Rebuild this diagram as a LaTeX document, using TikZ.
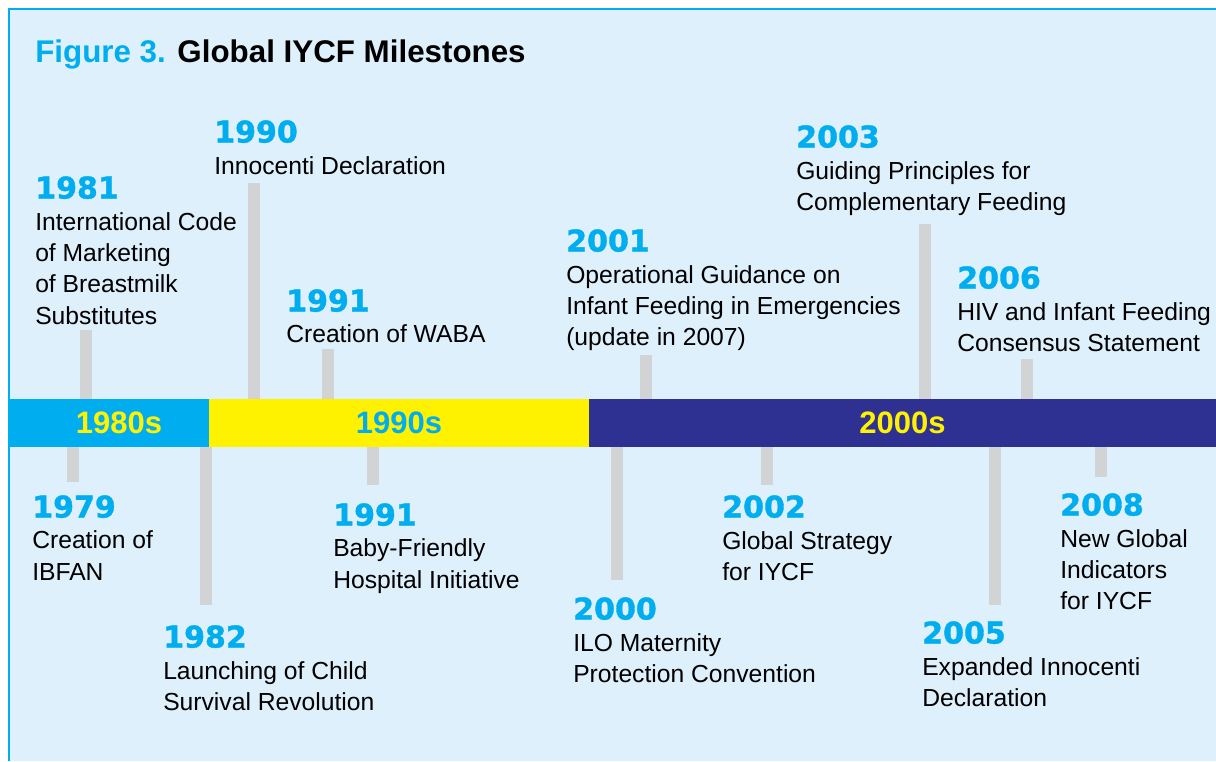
\documentclass[tikz,border=0pt]{standalone}
\usepackage{fontspec}
\setmainfont{Liberation Sans}
\newfontfamily\yearfont{DejaVu Sans Bold}[FakeBold=1.2]
\usetikzlibrary{calc}

\definecolor{iycfcyan}{RGB}{0,174,239}
\definecolor{iycfyellow}{RGB}{255,242,0}
\definecolor{iycfnavy}{RGB}{46,49,146}
\definecolor{iycfgray}{RGB}{209,211,212}
\definecolor{iycfback}{RGB}{221,240,251}

\newcommand\yr{\yearfont\fontsize{22.5}{27}\selectfont\color{iycfcyan}}

\begin{document}
\begin{tikzpicture}[x=0.75pt,y=-0.75pt,%
    decade/.style={inner sep=0pt,minimum height=36pt,font=\bfseries\fontsize{23.25}{28}\selectfont},
    ms/.style={anchor=north west,inner sep=0pt,align=left,font=\fontsize{18.5}{23.6}\selectfont},
    tick/.style={draw=iycfgray,line width=9pt}
  ]
		\useasboundingbox (0,0) rectangle (1216,761);
		\fill[iycfback] (9,9) rectangle (1216,761);
		\draw[iycfcyan,line width=1.2pt] (1216,9) -- (9,9) -- (9,761);

		\node at (35,62) [anchor=base west,inner sep=0pt,font=\bfseries\fontsize{23.5}{28}\selectfont] (title)
			{{\color{iycfcyan}Figure 3.} Global IYCF Milestones};

		% time bar
		\node at (109,423) [decade,fill=iycfcyan,minimum width=150pt,
			label={[decade,text=iycfyellow,xshift=7.5pt]center:1980s}] (d80) {};
		\node at (399,423) [decade,fill=iycfyellow,text=iycfcyan,minimum width=285pt] (d90) {1990s};
		\node at (902.5,423) [decade,fill=iycfnavy,text=iycfyellow,minimum width=470.25pt] (d00) {2000s};

		% ticks above the bar
		\coordinate (e1981) at (86,330);
		\coordinate (e1990) at (254,183);
		\coordinate (e1991a) at (328,349);
		\coordinate (e2001) at (646,355);
		\coordinate (e2003) at (925,224);
		\coordinate (e2006) at (1027,359);
		\draw[tick] (e1981) -- (e1981 |- d80.north);
		\draw[tick] (e1990) -- (e1990 |- d90.north);
		\draw[tick] (e1991a) -- (e1991a |- d90.north);
		\draw[tick] (e2001) -- (e2001 |- d00.north);
		\draw[tick] (e2003) -- (e2003 |- d00.north);
		\draw[tick] (e2006) -- (e2006 |- d00.north);

		% ticks below the bar
		\coordinate (e1979) at (73,482);
		\coordinate (e1982) at (206,605);
		\coordinate (e1991b) at (373,485);
		\coordinate (e2000) at (617,580);
		\coordinate (e2002) at (767,485);
		\coordinate (e2005) at (995,605);
		\coordinate (e2008) at (1101,477);
		\draw[tick] (e1979) -- (e1979 |- d80.south);
		\draw[tick] (e1982) -- (e1982 |- d80.south);
		\draw[tick] (e1991b) -- (e1991b |- d90.south);
		\draw[tick] (e2000) -- (e2000 |- d00.south);
		\draw[tick] (e2002) -- (e2002 |- d00.south);
		\draw[tick] (e2005) -- (e2005 |- d00.south);
		\draw[tick] (e2008) -- (e2008 |- d00.south);

		% milestones above
		\node at (35,176) [ms] (m1981) {{\yr 1981}\\International Code\\of Marketing\\of Breastmilk\\Substitutes};
		\node at (214,120) [ms] (m1990) {{\yr 1990}\\Innocenti Declaration};
		\node at (286,289) [ms] (m1991a) {{\yr 1991}\\Creation of WABA};
		\node at (566,229) [ms] (m2001) {{\yr 2001}\\Operational Guidance on\\Infant Feeding in Emergencies\\(update in 2007)};
		\node at (796,125) [ms] (m2003) {{\yr 2003}\\Guiding Principles for\\Complementary Feeding};
		\node at (957,266) [ms] (m2006) {{\yr 2006}\\HIV and Infant Feeding\\Consensus Statement};

		% milestones below
		\node at (32,495) [ms] (m1979) {{\yr 1979}\\Creation of\\IBFAN};
		\node at (163,625) [ms] (m1982) {{\yr 1982}\\Launching of Child\\Survival Revolution};
		\node at (333,503) [ms] (m1991b) {{\yr 1991}\\Baby-Friendly\\Hospital Initiative};
		\node at (573,597) [ms] (m2000) {{\yr 2000}\\ILO Maternity\\Protection Convention};
		\node at (722,495) [ms] (m2002) {{\yr 2002}\\Global Strategy\\for IYCF};
		\node at (922,621) [ms] (m2005) {{\yr 2005}\\Expanded Innocenti\\Declaration};
		\node at (1060,493) [ms] (m2008) {{\yr 2008}\\New Global\\Indicators\\for IYCF};
	\end{tikzpicture}
\end{document}
